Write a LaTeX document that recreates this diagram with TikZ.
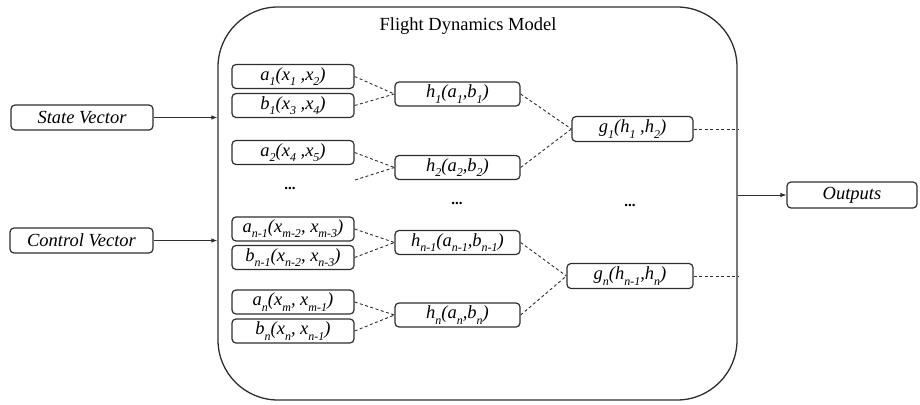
\documentclass[tikz,border=0pt]{standalone}
\usepackage{fontspec}
\setmainfont{Liberation Serif}
\usetikzlibrary{arrows.meta}
\definecolor{ln}{HTML}{2E2E2E}
\newcommand\sbx[1]{\raisebox{-0.28em}{\fontsize{12}{12}\selectfont #1}}
\begin{document}
\begin{tikzpicture}[x=1pt,y=-1pt,
  box/.style={draw=ln, line width=1.2pt, rounded corners=4pt, minimum height=24pt, inner sep=0pt, font=\fontsize{18.5}{20}\selectfont\itshape},
  dl/.style={draw=ln, line width=0.9pt, dash pattern=on 3pt off 2.5pt},
  arr/.style={draw=ln, line width=0.8pt, -{Latex[length=6pt,width=4.5pt]}},
  dots/.style={font=\fontsize{15}{15}\selectfont\bfseries}]
\useasboundingbox (0,0) rectangle (920,404);
% big box
\node[draw=ln, line width=1.3pt, rounded corners=60pt, minimum width=519pt, minimum height=393pt, inner sep=0pt] (fdm) at (477.5,203.5) {};
\node[font=\fontsize{18.5}{20}\selectfont] (title) at (468,26) {Flight Dynamics Model};
% inputs / outputs
\node[box, minimum width=142pt, minimum height=25pt] (sv) at (82,117.5) {State Vector};
\node[box, minimum width=143pt, minimum height=25pt] (cv) at (81.5,240.5) {Control Vector};
\node[box, minimum width=130pt, minimum height=26pt] (out) at (852,195) {Outputs};
% first column
\node[box, minimum width=122pt] (a1) at (293,76.5) {a\sbx{1}(x\sbx{1} ,x\sbx{2})};
\node[box, minimum width=122pt] (b1) at (293,105.5) {b\sbx{1}(x\sbx{3} ,x\sbx{4})};
\node[box, minimum width=122pt] (a2) at (293,152.5) {a\sbx{2}(x\sbx{4} ,x\sbx{5})};
\node[box, minimum width=122pt] (an1) at (293,229) {a\sbx{n-1}(x\sbx{m-2}, x\sbx{m-3})};
\node[box, minimum width=122pt] (bn1) at (293,257.5) {b\sbx{n-1}(x\sbx{n-2}, x\sbx{n-3})};
\node[box, minimum width=122pt] (an) at (293,302) {a\sbx{n}(x\sbx{m}, x\sbx{m-1})};
\node[box, minimum width=122pt] (bn) at (293,331) {b\sbx{n}(x\sbx{n}, x\sbx{n-1})};
% second column
\node[box, minimum width=125pt] (h1) at (457.5,94) {h\sbx{1}(a\sbx{1},b\sbx{1})};
\node[box, minimum width=125pt] (h2) at (457.5,167.5) {h\sbx{2}(a\sbx{2},b\sbx{2})};
\node[box, minimum width=125pt] (hn1) at (457.5,242.5) {h\sbx{n-1}(a\sbx{n-1},b\sbx{n-1})};
\node[box, minimum width=125pt] (hn) at (457.5,315) {h\sbx{n}(a\sbx{n},b\sbx{n})};
% third column
\node[box, minimum width=121pt, minimum height=25pt] (g1) at (632.5,129) {g\sbx{1}(h\sbx{1} ,h\sbx{2})};
\node[box, minimum width=126pt, minimum height=25pt] (gn) at (630,276) {g\sbx{n}(h\sbx{n-1},h\sbx{n})};
% dots
\node[dots] (d1) at (290,188) {...};
\node[dots] (d2) at (457,203) {...};
\node[dots] (d3) at (630,205) {...};
\coordinate (free) at (355,180);
% dashed links
\draw[dl] (a1.east) -- (h1.west);
\draw[dl] (b1.east) -- (h1.west);
\draw[dl] (a2.east) -- (h2.west);
\draw[dl] (free) -- (h2.west);
\draw[dl] (an1.east) -- (hn1.west);
\draw[dl] (bn1.east) -- (hn1.west);
\draw[dl] (an.east) -- (hn.west);
\draw[dl] (bn.east) -- (hn.west);
\draw[dl] (h1.east) -- (g1.west);
\draw[dl] (h2.east) -- (g1.west);
\draw[dl] (hn1.east) -- (gn.west);
\draw[dl] (hn.east) -- (gn.west);
\draw[dl] (g1.east) -- (g1.east -| fdm.east);
\draw[dl] (gn.east) -- (gn.east -| fdm.east);
% arrows
\draw[arr] (sv.east) -- (sv.east -| fdm.west);
\draw[arr] (cv.east) -- (cv.east -| fdm.west);
\draw[arr] (out.west -| fdm.east) -- (out.west);
\end{tikzpicture}
\end{document}
